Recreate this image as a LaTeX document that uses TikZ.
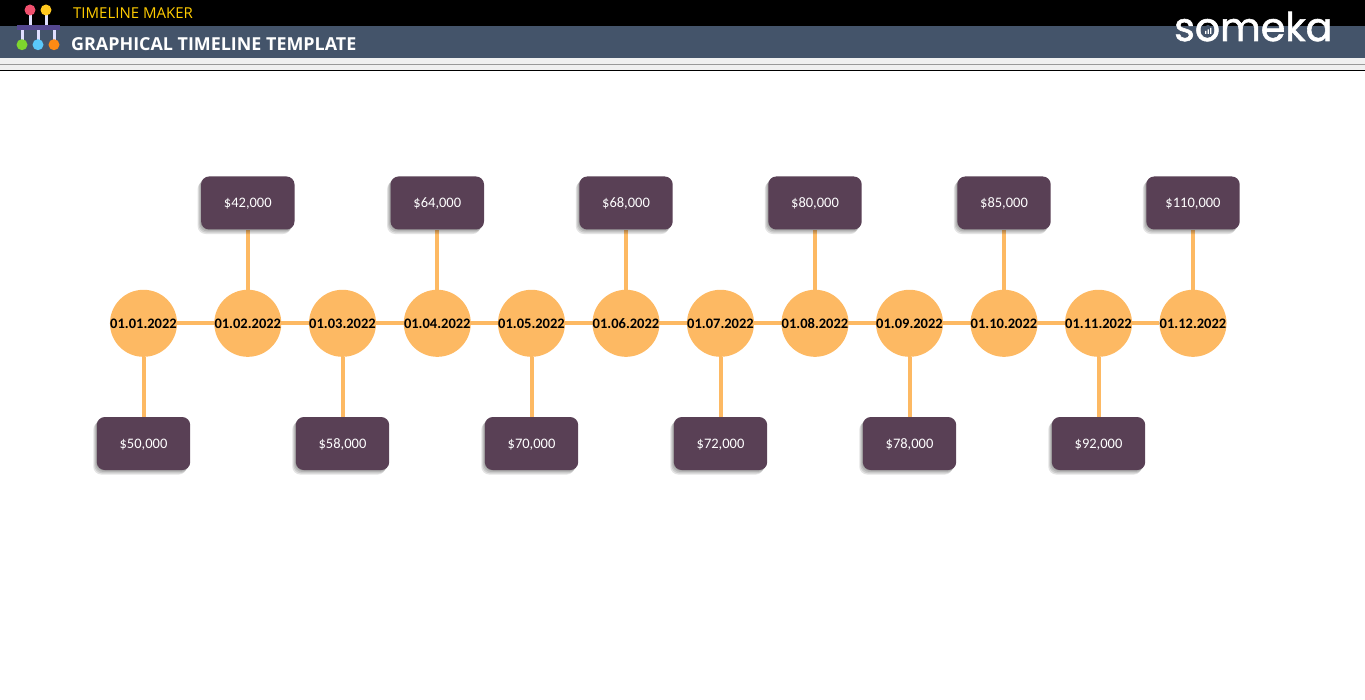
\documentclass[tikz,border=0pt]{standalone}
\usepackage{fontspec}
\setmainfont{Carlito}
\newfontfamily\headfont{Open Sans}
\newfontfamily\logofont[FakeBold=1.5]{Poppins}
\usepackage{tikz}
\usetikzlibrary{positioning,shadows,backgrounds}
\definecolor{orangeline}{HTML}{FDB963}
\definecolor{plumbox}{HTML}{594055}
\definecolor{slatebar}{HTML}{44546A}
\definecolor{iconbar}{HTML}{54478F}
\definecolor{iconred}{HTML}{F0506E}
\definecolor{iconyellow}{HTML}{FFC81E}
\definecolor{icongreen}{HTML}{7ED62E}
\definecolor{iconcyan}{HTML}{5AC8FA}
\definecolor{iconorange}{HTML}{FF8A14}
\tikzset{
  softshadow/.style={drop shadow={shadow xshift=-#1pt,shadow yshift=-#1pt*1.3,fill=black,opacity=.11}},
  datenode/.style={circle,fill=orangeline,inner sep=0pt,minimum size=66.8pt,text height=10pt,text depth=0pt,
    font=\fontsize{14.5}{16}\selectfont\bfseries,text=black},
  valbox/.style={rectangle,rounded corners=8pt,fill=plumbox,text=white,minimum width=93.4pt,minimum height=53pt,inner sep=0pt,
    text height=9.4pt,text depth=0pt,font=\fontsize{14.5}{16}\selectfont,softshadow=3.5,softshadow=2.5,softshadow=1.5,softshadow=.5},
  linkline/.style={orangeline,line width=4pt},
  stem/.style={line width=3pt,color=blue!12!white}
}
\begin{document}
\begin{tikzpicture}[x=1pt,y=-1pt]
      \useasboundingbox (0,0) rectangle (1365,700);
      % header bars
      \fill[black] (0,0) rectangle (1365,26);
      \fill[slatebar] (0,26) rectangle (1365,58);
      \fill[black!6] (0,58) rectangle (1365,70);
      \fill[black!40] (0,64) rectangle (1365,65);
      \fill[black] (0,70) rectangle (1365,71);
      \node[anchor=west,inner sep=0pt,text=orange!40!yellow,font=\headfont\fontsize{15}{17}\selectfont] (maker) at (73,13.5) {TIMELINE MAKER};
      \node[anchor=west,inner sep=0pt,text=white,font=\headfont\bfseries\fontsize{17.9}{20}\selectfont] (title) at (71,43.7) {GRAPHICAL TIMELINE TEMPLATE};
      % icon
      \draw[stem] (30,12) -- (30,25) (46,12) -- (46,25) (22,30) -- (22,44) (38,30) -- (38,44) (54,30) -- (54,44);
      \fill[iconbar] (17,25) rectangle (60,30);
      \fill[iconred] (30,10) circle (5.5);
      \fill[iconyellow] (46,10) circle (5.5);
      \fill[icongreen] (22,44.7) circle (5.5);
      \fill[iconcyan] (38,44.7) circle (5.5);
      \fill[iconorange] (54,44.7) circle (5.5);
      % logo
      \node[anchor=base west,inner sep=0pt,text=white,font=\logofont\fontsize{39.5}{42}\selectfont] (logo) at (1174,41) {someka};
      \fill[slatebar] (1208,30.5) circle (5.5);
      \fill[white] (1205,34) rectangle (1206.3,31) (1207.5,34) rectangle (1208.8,29.5) (1210,34) rectangle (1211.3,28);
      % timeline
      \foreach \x/\d [count=\i] in {143.5/01.01.2022,247.8/01.02.2022,342.5/01.03.2022,437.3/01.04.2022,531.5/01.05.2022,626/01.06.2022,720.5/01.07.2022,815/01.08.2022,909.5/01.09.2022,1004/01.10.2022,1098.5/01.11.2022,1193/01.12.2022}
        \node[datenode] (c\i) at (\x,323.3) {\d};
      \begin{scope}[on background layer]
        \draw[linkline] (c1) -- (c12);
      \end{scope}
      \foreach \i/\v in {1/50,3/58,5/70,7/72,9/78,11/92}{
        \node[valbox,below=59.8pt of c\i] (v\i) {\$\v,000};
        \begin{scope}[on background layer]
          \draw[linkline] (c\i) -- (v\i);
        \end{scope}
      }
      \foreach \i/\v in {2/42,4/64,6/68,8/80,10/85,12/110}{
        \node[valbox,above=59.9pt of c\i] (v\i) {\$\v,000};
        \begin{scope}[on background layer]
          \draw[linkline] (c\i) -- (v\i);
        \end{scope}
      }
    \end{tikzpicture}
\end{document}
